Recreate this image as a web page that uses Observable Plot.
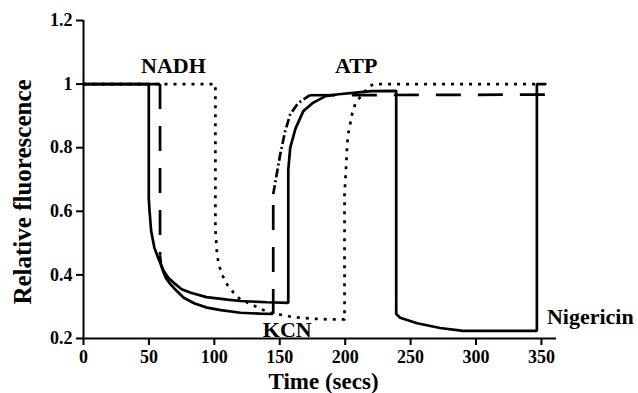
<!DOCTYPE html>
<html>
<head>
<meta charset="utf-8">
<script src="https://cdn.jsdelivr.net/npm/d3@7"></script>
<script src="https://cdn.jsdelivr.net/npm/@observablehq/plot@0.6"></script>
<style>
  html, body { margin: 0; padding: 0; background: #fff; }
</style>
</head>
<body>
<div id="chart"></div>
<script>
// ---- Data ----
const xTicks = [0, 50, 100, 150, 200, 250, 300, 350];
const yTicks = [0.2, 0.4, 0.6, 0.8, 1, 1.2];
const xTitle = "Time (secs)";
const yTitle = "Relative fluorescence";

// Solid trace
const solidT = [0, 49.9, 49.9, 50.5, 51.7, 54.2, 57, 61.3, 65, 69, 75, 82, 94, 110, 120, 140, 156.5,
                156.5, 158, 162, 168, 175, 185, 195, 210, 220, 239,
                239, 242, 255, 272.5, 290, 346.5, 346.5, 353];
const solidV = [1, 1, 0.64, 0.6, 0.538, 0.485, 0.454, 0.412, 0.39, 0.375, 0.355, 0.344, 0.33, 0.322, 0.318, 0.314, 0.312,
                0.73, 0.8, 0.86, 0.915, 0.94, 0.962, 0.968, 0.974, 0.978, 0.979,
                0.277, 0.265, 0.248, 0.233, 0.224, 0.224, 1.0, 1.0];

// Dashed trace
const dashedT = [0, 58.5, 58.5, 59.3, 61, 63, 66.4, 70, 76.6, 85, 94.4, 105, 120, 135, 145,
                 145, 150.4, 154, 158, 164, 173, 355];
const dashedV = [1, 1, 0.46, 0.43, 0.41, 0.39, 0.371, 0.355, 0.328, 0.31, 0.297, 0.289, 0.281, 0.278, 0.277,
                 0.654, 0.78, 0.85, 0.905, 0.94, 0.965, 0.967];

// Dotted trace
const dottedT = [0, 100.8, 100.8, 101.5, 102, 103.3, 106, 109.7, 114.7, 119.8, 128.8, 134, 142.7, 156.7, 165.6, 177, 188.5, 199.5,
                 199.5, 200.8, 201.5, 202.3, 203.8, 205.3, 207.6, 213, 219, 222, 346.5];
const dottedV = [1, 1, 0.54, 0.50, 0.47, 0.433, 0.40, 0.37, 0.344, 0.323, 0.307, 0.295, 0.281, 0.27, 0.265, 0.262, 0.26, 0.26,
                 0.654, 0.748, 0.81, 0.843, 0.874, 0.906, 0.937, 0.968, 0.994, 1.0, 1.0];

// Annotations
const annoLabels = ["NADH", "ATP", "KCN", "Nigericin"];
const annoT = [68.7, 208.4, 155.7, 354.2];
const annoV = [1.035, 1.035, 0.2044, 0.2453];

// ---- Build tables ----
const toRows = (T, V) => T.map((t, i) => ({t, v: V[i]}));
const solid = toRows(solidT, solidV);
const dashed = toRows(dashedT, dashedV);
const dotted = toRows(dottedT, dottedV);
const annos = annoLabels.map((label, i) => ({label, t: annoT[i], v: annoV[i]}));

// dashed trace piece styles (index ranges into dashed rows)
const dashedPieces = [
  {from: 0, to: 1, dash: null},          // flat start (under solid)
  {from: 1, to: 2, dash: "25,17"},       // NADH drop
  {from: 2, to: 14, dash: null},         // decay
  {from: 14, to: 15, dash: "25,17"},     // KCN jump
  {from: 15, to: 20, dash: "9,3,2,3"},   // rise
  {from: 20, to: 21, dash: "25,17"}      // plateau
];

const lw = 2.7;
const marks = [
  Plot.axisX({ticks: xTicks, tickSize: 7, tickPadding: 5, strokeWidth: 2, label: null, fontSize: 18, tickFormat: d => String(d)}),
  Plot.axisY({ticks: yTicks, tickSize: 7, tickPadding: 4, strokeWidth: 2, label: null, fontSize: 18, tickFormat: d => String(d)}),
  Plot.ruleX([0], {stroke: "black", strokeWidth: 2}),
  Plot.ruleY([0.2], {stroke: "black", strokeWidth: 2}),
  Plot.line(dotted, {x: "t", y: "v", stroke: "black", strokeWidth: lw, strokeDasharray: "3,6", strokeLinecap: "butt"})
];
for (const p of dashedPieces) {
  marks.push(Plot.line(dashed.slice(p.from, p.to + 1), {
    x: "t", y: "v", stroke: "black", strokeWidth: lw,
    strokeDasharray: p.dash || undefined, strokeLinecap: "butt"
  }));
}
marks.push(
  Plot.line(solid, {x: "t", y: "v", stroke: "black", strokeWidth: lw, strokeLinejoin: "miter"}),
  Plot.text(annos.filter(d => d.label !== "Nigericin"), {x: "t", y: "v", text: "label", textAnchor: "middle", lineAnchor: "bottom", fontSize: 22}),
  Plot.text(annos.filter(d => d.label === "Nigericin"), {x: "t", y: "v", text: "label", textAnchor: "start", lineAnchor: "bottom", fontSize: 22}),
  Plot.text([xTitle], {frameAnchor: "bottom", text: d => d, textAnchor: "middle", dx: 3.5, dy: 50, lineAnchor: "bottom", fontSize: 23}),
  Plot.text([yTitle], {frameAnchor: "left", text: d => d, textAnchor: "middle", rotate: -90, dx: -53, dy: 12.5, lineAnchor: "bottom", fontSize: 25})
);

const chart = Plot.plot({
  width: 638,
  height: 393,
  marginLeft: 83,
  marginRight: 82,
  marginTop: 20,
  marginBottom: 55,
  x: {domain: [0, 361.5]},
  y: {domain: [0.2, 1.2]},
  style: {fontFamily: "'Liberation Serif', 'Times New Roman', serif", fontWeight: "bold", fontSize: "18px", background: "white", color: "black", overflow: "visible"},
  marks
});
document.getElementById("chart").appendChild(chart);
</script>
</body>
</html>
